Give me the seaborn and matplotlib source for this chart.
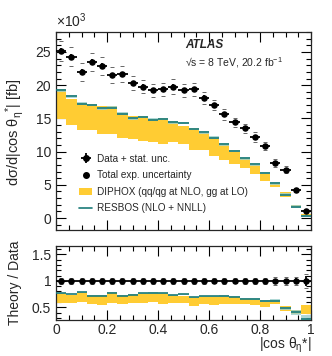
import numpy as np
import matplotlib
matplotlib.use("Agg")
import matplotlib.pyplot as plt
import seaborn as sns
import pandas as pd
from matplotlib.lines import Line2D
from matplotlib.patches import Patch
from matplotlib.ticker import MultipleLocator

# ---- data (values in units of 10^3 fb) ----
bin_edges = np.round(np.arange(0, 1.0001, 0.04), 2)
data_val = [25.2, 24.3, 22.0, 23.5, 22.9, 21.5, 21.7, 20.3, 19.8, 19.2, 19.4, 19.8, 19.2,
            19.4, 18.1, 17.0, 15.6, 14.4, 13.5, 12.2, 10.9, 8.3, 7.3, 4.2, 1.1]
data_stat = [0.4, 0.4, 0.4, 0.4, 0.4, 0.35, 0.35, 0.35, 0.35, 0.35, 0.35, 0.35, 0.35,
             0.35, 0.35, 0.35, 0.3, 0.3, 0.3, 0.3, 0.3, 0.25, 0.25, 0.2, 0.1]
data_tot = [1.5, 1.4, 1.3, 1.3, 1.3, 1.2, 1.2, 1.1, 1.0, 1.0, 1.0, 1.1, 1.0,
            1.0, 0.9, 0.8, 0.8, 0.7, 0.7, 0.7, 0.6, 0.6, 0.5, 0.3, 0.15]
diphox_up = [19.4, 17.9, 17.3, 17.1, 16.8, 16.9, 15.8, 15.4, 15.3, 14.9, 15.0, 14.6, 13.9,
             13.5, 12.8, 12.1, 11.1, 10.0, 9.0, 8.0, 6.6, 5.3, 3.9, 1.9, 0.6]
diphox_lo = [14.9, 14.0, 13.3, 13.3, 12.6, 12.6, 12.1, 11.9, 11.6, 11.5, 11.1, 11.5, 11.2,
             10.2, 10.2, 9.4, 8.8, 8.1, 7.5, 6.7, 5.6, 4.6, 3.2, 1.6, 0.42]
resbos_val = [19.2, 18.3, 17.2, 17.0, 16.5, 16.6, 15.7, 15.0, 15.2, 14.8, 14.9, 14.4, 14.3,
              13.4, 12.9, 12.1, 11.1, 10.1, 9.0, 8.1, 6.8, 5.2, 3.5, 1.7, 0.3]
resbos_unc = [0.2] * 24 + [0.1]
x_ticks = [0, 0.2, 0.4, 0.6, 0.8, 1]
x_ticklabels = ["0", "0.2", "0.4", "0.6", "0.8", "1"]

YELLOW = "#FFCC33"
TEAL = "#1A7A78"
LTEAL = "#9CCFCB"

sns.set_style("ticks")
plt.rcParams["font.family"] = ["Liberation Sans", "DejaVu Sans"]
plt.rcParams["mathtext.fontset"] = "custom"
plt.rcParams["mathtext.rm"] = "Liberation Sans"
plt.rcParams["mathtext.it"] = "Liberation Sans:italic"
plt.rcParams["mathtext.bf"] = "Liberation Sans:bold"

lo_e = bin_edges[:-1]
hi_e = bin_edges[1:]
centers = (lo_e + hi_e) / 2
dv = np.array(data_val)
df = pd.DataFrame({"x": centers, "y": dv, "r": np.ones_like(dv)})

fig = plt.figure(figsize=(3.32, 3.56), dpi=100)
ax = fig.add_axes([0.169, 0.354, 0.768, 0.556])
axr = fig.add_axes([0.169, 0.101, 0.768, 0.208])


def step(v):
    v = np.asarray(v, float)
    return np.r_[v, v[-1]]


def draw(a, scale, ratio):
    up = np.array(diphox_up) / scale
    lo = np.array(diphox_lo) / scale
    rb = np.array(resbos_val) / scale
    ru = np.array(resbos_unc) / scale
    a.fill_between(bin_edges, step(lo), step(up), step="post", color=YELLOW, lw=0, zorder=1)
    a.fill_between(bin_edges, step(rb - ru), step(rb + ru), step="post", color=LTEAL,
                   lw=0, alpha=0.8, zorder=2)
    a.hlines(rb, lo_e, hi_e, color=TEAL, lw=1.2, zorder=3)
    yv = df["r"] if ratio else df["y"]
    st = np.array(data_stat) / scale
    tt = np.array(data_tot) / scale
    a.errorbar(centers, yv, yerr=tt, fmt="none", elinewidth=0, capsize=1.6,
               capthick=0.7, ecolor="#666666", zorder=4)
    a.errorbar(centers, yv, xerr=0.02, yerr=st, fmt="none", elinewidth=1.3,
               ecolor="black", capsize=0, zorder=5)
    sns.scatterplot(data=df, x="x", y="r" if ratio else "y", ax=a, color="black",
                    s=22, edgecolor="black", linewidth=0, zorder=6, legend=False)
    a.set_xlabel("")
    a.set_ylabel("")


draw(ax, 1.0, False)
draw(axr, dv, True)

for a in (ax, axr):
    a.set_xlim(0, 1)
    a.set_xticks(x_ticks)
    a.xaxis.set_minor_locator(MultipleLocator(0.05))
    a.tick_params(which="both", direction="in", top=True, right=True, labelsize=10,
                  width=0.8, color="black")
    a.tick_params(which="major", length=7)
    a.tick_params(which="minor", length=3.5)
    for s in a.spines.values():
        s.set_linewidth(0.9)
    a.set_xlim(0, 1)

ax.set_ylim(-1.8, 28)
ax.set_yticks([0, 5, 10, 15, 20, 25])
ax.yaxis.set_minor_locator(MultipleLocator(1))
ax.tick_params(labelbottom=False)

axr.set_ylim(0.26, 1.66)
axr.set_yticks([0.5, 1, 1.5])
axr.set_yticklabels(["0.5", "1", "1.5"])
axr.yaxis.set_minor_locator(MultipleLocator(0.1))
axr.set_xticklabels(x_ticklabels)
axr.tick_params(axis="x", which="major", pad=2)

ax.text(0.0, 1.01, "×10$^{\\mathregular{3}}$", transform=ax.transAxes, fontsize=10,
        ha="left", va="bottom")
ax.text(0.505, 0.935, "ATLAS", transform=ax.transAxes, fontsize=8.5,
        fontweight="bold", fontstyle="italic", ha="left", va="center")
ax.text(0.505, 0.845, "√s = 8 TeV, 20.2 fb$^{\\mathregular{-1}}$", transform=ax.transAxes,
        fontsize=7.5, ha="left", va="center")

fig.text(0.045, 0.63, "dσ/d|cos θ$_{\\mathregular{η}}$$^{\\mathregular{*}}$| [fb]",
         rotation=90, fontsize=10.5, ha="center", va="center")
fig.text(0.045, 0.205, "Theory / Data", rotation=90, fontsize=10, ha="center", va="center")
fig.text(0.937, 0.004, "|cos θ$_{\\mathregular{η}}$*|", fontsize=10,
         ha="right", va="bottom")

# legend
h_data = ax.errorbar([], [], xerr=[], yerr=[], fmt="o", color="black", ms=4,
                     elinewidth=1.3)
h_tot = ax.errorbar([], [], yerr=[], fmt="o", color="black", ecolor="#666666", ms=4,
                    elinewidth=0, capsize=1.6, capthick=0.7)
h_dip = Patch(facecolor=YELLOW, edgecolor="none")
h_res = Line2D([], [], color=TEAL, lw=1.2)
ax.legend([h_data, h_tot, h_dip, h_res],
          ["Data + stat. unc.", "Total exp. uncertainty", "DIPHOX (qq/qg at NLO, gg at LO)",
           "RESBOS (NLO + NNLL)"],
          loc="lower left", bbox_to_anchor=(0.075, 0.065), frameon=False, fontsize=7.2,
          handlelength=1.3, handletextpad=0.5, labelspacing=0.65, borderaxespad=0)

fig.savefig("out.png", dpi=100)
